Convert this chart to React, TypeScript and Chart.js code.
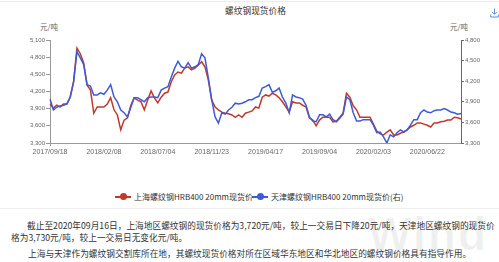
import React, { useEffect, useRef } from "react";
import { Chart, registerables } from "chart.js";

Chart.register(...registerables);

const tickDates = ["2017/09/18", "2018/02/08", "2018/07/04", "2018/11/23", "2019/04/17", "2019/09/04", "2020/02/03", "2020/06/22"];
const pointsPerTick = 16;

const shanghai = [
  3980, 3910, 3960, 3930, 3980, 3980, 4100, 4370, 4960, 4860, 4700, 4310, 4230, 3820, 3930, 3930,
  3930, 3980, 4090, 3880, 3790, 3530, 3700, 3740, 3960, 4090, 4050, 4020, 3880, 4050, 4210, 4090,
  4000, 4100, 4170, 4190, 4370, 4490, 4540, 4520, 4610, 4630, 4580, 4610, 4660, 4720, 4630, 4400,
  4050, 3930, 3880, 3840, 3820, 3810, 3790, 3750, 3790, 3750, 3820, 3840, 3860, 3930, 3910, 4100,
  4140, 4120, 4170, 4140, 4090, 4020, 3930, 3840, 4020, 4000, 4000, 3960, 3930, 3740, 3700, 3600,
  3700, 3750, 3750, 3750, 3670, 3680, 3750, 3820, 4170, 4100, 3950, 3880, 3750, 3750, 3750, 3750,
  3630, 3510, 3460, 3440, 3490, 3530, 3440, 3440, 3470, 3490, 3530, 3580, 3610, 3650, 3650, 3630,
  3610, 3580, 3650, 3650, 3670, 3680, 3700, 3700, 3750, 3740, 3720,
];

const tianjin = [
  3940, 3780, 3820, 3840, 3850, 3870, 3970, 4190, 4630, 4540, 4440, 4150, 4130, 4000, 4000, 4030,
  4010, 4070, 4150, 3970, 3900, 3780, 3740, 3680, 3820, 3960, 3960, 3930, 3900, 3960, 3970, 3970,
  3960, 4070, 4100, 4120, 4260, 4390, 4490, 4410, 4390, 4470, 4390, 4410, 4440, 4600, 4540, 4250,
  3930, 3680, 3590, 3740, 3720, 3780, 3820, 3880, 3870, 3880, 3900, 3930, 3930, 3960, 3980, 4100,
  4120, 4150, 4040, 4060, 4100, 3970, 3880, 3740, 4000, 3970, 3960, 3940, 3850, 3680, 3620, 3610,
  3710, 3710, 3680, 3720, 3640, 3610, 3660, 3720, 3970, 3930, 3740, 3620, 3620, 3640, 3640, 3640,
  3560, 3450, 3460, 3390, 3300, 3420, 3390, 3450, 3490, 3460, 3490, 3560, 3640, 3640, 3740, 3780,
  3750, 3740, 3770, 3780, 3780, 3800, 3780, 3750, 3740, 3720, 3730,
];

const leftTicks = [3300, 3600, 3900, 4200, 4500, 4800, 5100];
const rightTicks = [3300, 3600, 3900, 4200, 4500, 4800];

const seriesNames = ["上海螺纹钢HRB400 20mm现货价", "天津螺纹钢HRB400 20mm现货价(右)"];
const RED = "#c0392b";
const BLUE = "#3f5ad8";

const TICK_FONT = "'Liberation Sans', 'Noto Sans CJK SC', sans-serif";
const CJK_FONT = "'Noto Sans CJK SC', 'Liberation Sans', sans-serif";

const fmt = (v: number) => v.toLocaleString("en-US");

function LineChart() {
  const ref = useRef<HTMLCanvasElement | null>(null);
  useEffect(() => {
    if (!ref.current) return;
    const labels = shanghai.map((_, i) =>
      i % pointsPerTick === 0 && tickDates[i / pointsPerTick] ? tickDates[i / pointsPerTick] : ""
    );
    const chart = new Chart(ref.current, {
      type: "line",
      data: {
        labels,
        datasets: [
          {
            label: seriesNames[0],
            data: shanghai,
            yAxisID: "y",
            borderColor: RED,
            backgroundColor: RED,
            borderWidth: 1.5,
            pointRadius: 0,
            tension: 0,
            order: 2,
          },
          {
            label: seriesNames[1],
            data: tianjin,
            yAxisID: "y1",
            borderColor: BLUE,
            backgroundColor: BLUE,
            borderWidth: 1.5,
            pointRadius: 0,
            tension: 0,
            order: 1,
          },
        ],
      },
      options: {
        animation: false,
        responsive: false,
        devicePixelRatio: 1,
        layout: { padding: { top: 40, left: 0, right: 0, bottom: 0 } },
        plugins: {
          legend: { display: false },
          tooltip: { enabled: false },
          title: { display: false },
        },
        scales: {
          x: {
            type: "category",
            offset: false,
            grid: {
              drawOnChartArea: false,
              drawTicks: true,
              tickLength: 3,
              color: (ctx: any) => (ctx.index % pointsPerTick === 0 ? "#999" : "rgba(0,0,0,0)"),
            },
            border: { color: "#999", width: 1 },
            ticks: {
              autoSkip: false,
              maxRotation: 0,
              minRotation: 0,
              padding: 2,
              color: "#666",
              font: { family: TICK_FONT, size: 7 },
              callback: function (this: any, value: any) {
                const l = this.getLabelForValue(value);
                return l ? l : null;
              },
            },
            afterFit: (s: any) => {
              s.height = 17;
            },
          },
          y: {
            position: "left",
            min: 3300,
            max: 5100,
            grid: { drawOnChartArea: false, tickLength: 4, color: "#999" },
            border: { color: "#999", width: 1 },
            ticks: {
              padding: 1,
              color: "#666",
              font: { family: TICK_FONT, size: 6 },
              callback: (v: any) => fmt(Number(v)),
            },
            afterBuildTicks: (s: any) => {
              s.ticks = leftTicks.map((v) => ({ value: v }));
            },
            afterFit: (s: any) => {
              s.width = 50;
            },
          },
          y1: {
            position: "right",
            min: 3300,
            max: 4800,
            grid: { drawOnChartArea: false, tickLength: 3, color: "#666" },
            border: { color: "#666", width: 1 },
            ticks: {
              padding: 1,
              color: "#666",
              font: { family: TICK_FONT, size: 6 },
              callback: (v: any) => fmt(Number(v)),
            },
            afterBuildTicks: (s: any) => {
              s.ticks = rightTicks.map((v) => ({ value: v }));
            },
            afterFit: (s: any) => {
              s.width = 38;
            },
          },
        },
      } as any,
    });
    return () => chart.destroy();
  }, []);
  return (
    <canvas
      ref={ref}
      width={499}
      height={160}
      style={{ position: "absolute", left: 0, top: 0, width: 499, height: 160 }}
    />
  );
}

function LegendItem({ color, text, left }: { color: string; text: string; left: number }) {
  return (
    <div style={{ position: "absolute", left, top: 190, height: 13, display: "flex", alignItems: "center" }}>
      <div style={{ position: "relative", width: 16, height: 13 }}>
        <div style={{ position: "absolute", left: 0, top: 6, width: 16, height: 1.5, background: color }} />
        <div
          style={{
            position: "absolute",
            left: 4.5,
            top: 3,
            width: 7,
            height: 7,
            borderRadius: "50%",
            background: color,
          }}
        />
      </div>
      <span style={{ marginLeft: 3, fontSize: 8, color: "#333", fontFamily: CJK_FONT, whiteSpace: "nowrap", lineHeight: "13px" }}>
        {text}
      </span>
    </div>
  );
}

export default function App() {
  const textStyle: React.CSSProperties = {
    position: "absolute",
    fontFamily: CJK_FONT,
    fontSize: 8.7,
    lineHeight: "12px",
    color: "#333",
    whiteSpace: "nowrap",
  };
  return (
    <div
      style={{
        position: "fixed",
        left: 0,
        top: 0,
        width: 499,
        height: 262,
        background: "#fff",
        overflow: "hidden",
      }}
    >
      <div style={{ position: "absolute", left: 0, top: 1, width: 499, height: 1, background: "#ececec" }} />
      <div
        style={{
          position: "absolute",
          left: 50,
          width: 411,
          top: 5,
          textAlign: "center",
          fontFamily: CJK_FONT,
          fontSize: 8.7,
          lineHeight: "12px",
          color: "#333",
        }}
      >
        螺纹钢现货价格
      </div>
      <svg width={9} height={10} style={{ position: "absolute", left: 490, top: 8 }}>
        <path d="M4.5 0.5 V6 M2 3.8 L4.5 6.3 L7 3.8" stroke="#5b8fd6" strokeWidth={1} fill="none" />
        <path d="M0.7 6.5 V9 H8.3 V6.5" stroke="#5b8fd6" strokeWidth={1} fill="none" />
      </svg>
      <div
        style={{
          position: "absolute",
          left: 36,
          width: 26,
          top: 22,
          textAlign: "center",
          fontFamily: CJK_FONT,
          fontSize: 7.5,
          lineHeight: "10px",
          color: "#666",
        }}
      >
        元/吨
      </div>
      <div
        style={{
          position: "absolute",
          left: 446,
          width: 26,
          top: 22,
          textAlign: "center",
          fontFamily: CJK_FONT,
          fontSize: 7.5,
          lineHeight: "10px",
          color: "#666",
        }}
      >
        元/吨
      </div>
      <LineChart />
      <LegendItem color={RED} text={seriesNames[0]} left={115} />
      <LegendItem color={BLUE} text={seriesNames[1]} left={252} />
      <div style={{ position: "absolute", left: 0, top: 208, width: 499, height: 1, background: "#eeeeee" }} />
      <div
        style={{
          position: "absolute",
          left: 368,
          top: 206,
          fontFamily: "'Liberation Sans', sans-serif",
          fontWeight: 700,
          fontSize: 46,
          lineHeight: "56px",
          color: "rgba(0,0,0,0.06)",
          letterSpacing: 2,
        }}
      >
        Wind
      </div>
      <div style={{ ...textStyle, left: 27, top: 220 }}>
        截止至2020年09月16日，上海地区螺纹钢的现货价格为3,720元/吨，较上一交易日下降20元/吨，天津地区螺纹钢的现货价
      </div>
      <div style={{ ...textStyle, left: 11, top: 232 }}>格为3,730元/吨，较上一交易日无变化元/吨。</div>
      <div style={{ ...textStyle, left: 28, top: 248 }}>
        上海与天津作为螺纹钢交割库所在地，其螺纹现货价格对所在区域华东地区和华北地区的螺纹钢价格具有指导作用。
      </div>
    </div>
  );
}
